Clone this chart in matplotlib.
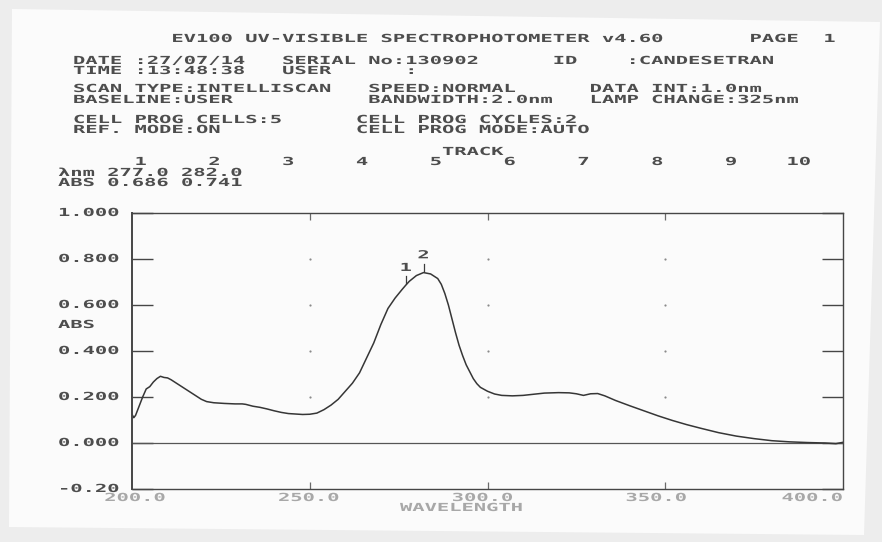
import matplotlib
matplotlib.use("Agg")
import matplotlib.pyplot as plt
import matplotlib.patheffects as pe
from matplotlib.patches import Polygon
from matplotlib.transforms import Affine2D, offset_copy

# scan data: wavelength (nm) and absorbance
wavelength = [200.0, 200.5, 201.0, 202.0, 203.0, 204.0, 205.0, 206.0, 207.0, 208.0,
              209.0, 210.0, 211.0, 212.0, 214.0, 216.0, 218.0, 219.5, 221.0, 223.0,
              226.0, 229.0, 231.0, 232.0, 234.0, 236.0, 238.0, 240.0, 242.0, 244.0,
              246.0, 248.0, 250.0, 252.0, 254.0, 256.0, 258.0, 260.0, 262.0, 264.0,
              266.0, 268.0, 270.0, 272.0, 274.0, 276.0, 277.0, 278.0, 280.0, 282.0,
              284.0, 286.0, 287.0, 288.0, 289.0, 290.0, 291.0, 292.0, 293.0, 294.0,
              295.0, 296.0, 297.0, 298.0, 300.0, 302.0, 304.0, 307.0, 310.0, 313.0,
              316.0, 320.0, 323.0, 325.0, 327.0, 329.0, 331.0, 333.0, 336.0, 340.0,
              344.0, 348.0, 352.0, 356.0, 360.0, 365.0, 370.0, 375.0, 380.0, 385.0,
              390.0, 395.0, 398.0, 400.0]
absorbance = [0.125, 0.110, 0.120, 0.160, 0.200, 0.235, 0.245, 0.265, 0.280, 0.290,
              0.285, 0.283, 0.275, 0.265, 0.245, 0.225, 0.205, 0.190, 0.180, 0.175,
              0.172, 0.170, 0.170, 0.168, 0.160, 0.155, 0.148, 0.140, 0.133, 0.128,
              0.126, 0.124, 0.125, 0.130, 0.145, 0.165, 0.190, 0.225, 0.260, 0.305,
              0.370, 0.435, 0.515, 0.585, 0.630, 0.668, 0.686, 0.703, 0.728, 0.741,
              0.735, 0.715, 0.690, 0.650, 0.600, 0.540, 0.480, 0.425, 0.380, 0.340,
              0.310, 0.280, 0.258, 0.242, 0.225, 0.213, 0.207, 0.205, 0.207, 0.212,
              0.217, 0.219, 0.218, 0.214, 0.207, 0.214, 0.215, 0.205, 0.185, 0.162,
              0.140, 0.118, 0.098, 0.080, 0.064, 0.045, 0.030, 0.019, 0.010, 0.005,
              0.002, 0.000, -0.003, 0.003]

peak_nm = [277.0, 282.0]
peak_abs = [0.686, 0.741]
peak_ids = ["1", "2"]

y_ticks = [-0.2, 0.0, 0.2, 0.4, 0.6, 0.8, 1.0]
y_labels = ["-0.20", "0.000", "0.200", "0.400", "0.600", "0.800", "1.000"]
x_ticks = [200.0, 250.0, 300.0, 350.0, 400.0]
x_labels = ["200.0", "250.0", "300.0", "350.0", "400.0"]
track_cols = ["1", "2", "3", "4", "5", "6", "7", "8", "9", "10"]

W, H = 882, 542
MONO = "DejaVu Sans Mono"
FS = 8.0
ADV = 0.602 * FS * 100 / 72   # natural advance of one mono glyph, px
PITCH = 12.3                  # printer character pitch, px
INK = "#4d4d4d"
FADED = "#a8a8a8"


class Widen(pe.AbstractPathEffect):
    """Stretch glyphs sideways, like a double-width printer font."""

    def __init__(self, sx):
        super().__init__()
        self.sx = sx

    def draw_path(self, renderer, gc, tpath, affine, rgbFace=None):
        renderer.draw_path(gc, tpath, Affine2D().scale(self.sx, 1.0) + affine, rgbFace)


WIDE = [Widen(PITCH / ADV)]
TYPE = dict(family=MONO, size=FS, weight="bold", ha="left", va="center",
            path_effects=WIDE)

fig = plt.figure(figsize=(W / 100, H / 100), dpi=100)
fig.patch.set_facecolor("#ededed")
paper = Polygon([(12 / W, 1 - 9 / H), (880 / W, 1 - 22 / H),
                 (864 / W, 1 - 535 / H), (9 / W, 1 - 527 / H)],
                closed=True, transform=fig.transFigure,
                facecolor="#fbfbfb", edgecolor="none", zorder=0)
fig.add_artist(paper)


def printed(x, y, s, color=INK):
    # x, y are pixels measured from the top-left of the page
    fig.text(x / W, 1 - y / H, s, color=color, **TYPE)


def col(c, x0=73):
    return x0 + c * PITCH


# header block
printed(col(8), 39, "EV100 UV-VISIBLE SPECTROPHOTOMETER v4.60")
printed(col(55), 39, "PAGE  1")
printed(col(0), 61, "DATE :27/07/14   SERIAL No:130902      ID    :CANDESETRAN")
printed(col(0), 71, "TIME :13:48:38   USER      :")
printed(col(0), 89, "SCAN TYPE:INTELLISCAN   SPEED:NORMAL      DATA INT:1.0nm")
printed(col(0), 100, "BASELINE:USER           BANDWIDTH:2.0nm   LAMP CHANGE:325nm")
printed(col(0), 120, "CELL PROG CELLS:5      CELL PROG CYCLES:2")
printed(col(0), 130, "REF. MODE:ON           CELL PROG MODE:AUTO")
printed(col(30), 152, "TRACK")
printed(col(0), 162, "".join("%6s" % t for t in track_cols))
printed(58, 173, "λnm " + " ".join("%.1f" % v for v in peak_nm))
printed(58, 183, "ABS " + " ".join("%.3f" % v for v in peak_abs))

# plot frame
ax = fig.add_axes([132 / W, 1 - 489 / H, (843 - 132) / W, (489 - 213) / H])
ax.set_facecolor("none")
ax.set_xlim(200, 400)
ax.set_ylim(-0.2, 1.0)
for side, sp in ax.spines.items():
    sp.set_color("#464646")
    sp.set_linewidth(1.4 if side == "left" else 1.0)

ax.set_yticks(y_ticks)
ax.tick_params(axis="y", direction="in", length=15, width=1.0, color="#464646",
               left=True, right=True, labelleft=False)
ax.set_xticks(x_ticks[1:-1])
ax.tick_params(axis="x", direction="in", length=5, width=0.9, color="#6a6a6a",
               top=True, bottom=True, labelbottom=False)

# dotted grid points and zero line
gx = [x for x in x_ticks[1:-1] for y in y_ticks[2:-1]]
gy = [y for x in x_ticks[1:-1] for y in y_ticks[2:-1]]
ax.scatter(gx, gy, s=2.5, color="#8a8a8a", linewidths=0)
ax.axhline(0.0, color="#555555", lw=0.9)

ax.plot(wavelength, absorbance, color="#363636", lw=1.1)

# peak picks
for nm, a, pid in zip(peak_nm, peak_abs, peak_ids):
    ax.plot([nm, nm], [a + 0.008, a + 0.038], color="#3c3c3c", lw=0.9)
    tr = offset_copy(ax.transData, fig=fig, x=-PITCH / 2, y=0, units="dots")
    ax.text(nm, a + 0.075, pid, transform=tr, color=INK, **TYPE)

# axis labels in printer type
ytr = offset_copy(ax.get_yaxis_transform(), fig=fig, x=58 - 132, y=0, units="dots")
for v, lab in zip(y_ticks, y_labels):
    ax.text(0, v, lab, transform=ytr, color=INK, **TYPE)
for i, (v, lab) in enumerate(zip(x_ticks, x_labels)):
    # the last label is set flush with the right edge of the frame
    if i == len(x_ticks) - 1:
        dx = -len(lab) * PITCH
    else:
        dx = -len(lab) * PITCH / 2 + 3 - 4 * i
    xtr = offset_copy(ax.get_xaxis_transform(), fig=fig, x=dx, y=-9, units="dots")
    ax.text(v, 0, lab, transform=xtr, color=FADED, **TYPE)

printed(58, 325, "ABS")
printed(400, 508, "WAVELENGTH", color=FADED)

fig.savefig("out.png", dpi=100)
